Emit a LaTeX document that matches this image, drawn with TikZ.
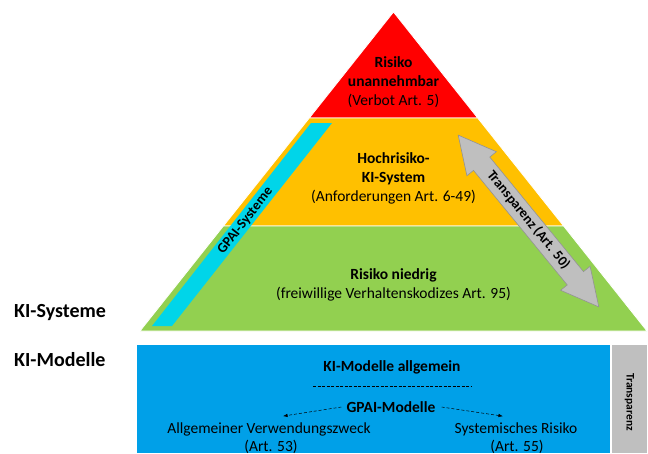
\documentclass[tikz,border=0pt]{standalone}
\usepackage{fontspec}
\setmainfont{Carlito}
\usepackage{tikz}
\usetikzlibrary{positioning,arrows.meta,calc}
\definecolor{riskred}{HTML}{FF0000}
\definecolor{riskorange}{HTML}{FFC000}
\definecolor{riskgreen}{HTML}{92D050}
\definecolor{gpaicyan}{HTML}{00D5E9}
\definecolor{modelblue}{HTML}{00A0E8}
\definecolor{transgray}{HTML}{BFBFBF}
\newcommand{\lvlfont}{\fontsize{15.5}{19}\selectfont}

\begin{document}
\begin{tikzpicture}[x=1pt,y=-1pt,
  lvltext/.style={align=center,inner sep=0pt,font=\lvlfont},
  sidelabel/.style={anchor=west,inner sep=0pt,font=\fontsize{20}{24}\selectfont\bfseries},
  gpaiarrow/.style={densely dashed,line width=0.5pt,-{Latex[length=1.6mm]}}]
\useasboundingbox (0,0) rectangle (648,453);
% pyramid: apex (393.5,12), base y=331 from x=140 to x=647
\filldraw[fill=riskred,draw=white,line width=0.8pt] (393.5,12) -- (477.7,118) -- (309.3,118) -- cycle;
\filldraw[fill=riskorange,draw=white,line width=0.8pt] (309.3,118) -- (477.7,118) -- (563.6,226) -- (223.4,226) -- cycle;
\filldraw[fill=riskgreen,draw=white,line width=0.8pt] (223.4,226) -- (563.6,226) -- (647,331) -- (140,331) -- cycle;
% GPAI band along the left flank
\fill[gpaicyan] (311,123) -- (332,123) -- (172,326) -- (152,326) -- cycle;
\node[rotate=52,inner sep=0pt,font=\fontsize{14}{16}\selectfont\bfseries] (gpaisys) at (245.5,221) {GPAI-Systeme};
% level texts
\node[lvltext] (unacc) at (393.5,82) {\textbf{Risiko}\\\textbf{unannehmbar}\\(Verbot Art. 5)};
\node[lvltext] (high) at (393.5,178) {\textbf{Hochrisiko-}\\\textbf{KI-System}\\(Anforderungen Art. 6-49)};
\node[lvltext] (low) at (393.5,285) {\textbf{Risiko niedrig}\\(freiwillige Verhaltenskodizes Art. 95)};
% transparency double arrow, tips at (458,135) and (599,307)
\begin{scope}[shift={(528.5,221)},rotate=-50.7]
\filldraw[fill=transgray,draw=gray!85,line width=0.6pt] (-111,0) -- (-74,19) -- (-74,10.5) -- (74,10.5) -- (74,19) -- (111,0)
  -- (74,-19) -- (74,-10.5) -- (-74,-10.5) -- (-74,-19) -- cycle;
\end{scope}
\node[rotate=-50.7,inner sep=0pt,font=\fontsize{14}{16}\selectfont\bfseries] (transart) at (528.5,220) {Transparenz (Art. 50)};
% side labels
\node[sidelabel] (kisys) at (14,313) {KI-Systeme};
\node[sidelabel] (kimod) at (14,360) {KI-Modelle};
% model box
\fill[modelblue] (137,345) rectangle (610,453);
\fill[transgray] (612,345) rectangle (647,453);
\node[rotate=-90,inner sep=0pt,font=\fontsize{11.5}{13}\selectfont\bfseries] (transbar) at (629.5,402) {Transparenz};
\node[lvltext,font=\lvlfont\bfseries] (allg) at (392,367) {KI-Modelle allgemein};
\draw[dash pattern=on 3pt off 1.5pt,line width=0.6pt] (313,386) -- (472,386);
\node[lvltext,font=\lvlfont\bfseries] (gpai) at (391,407) {GPAI-Modelle};
\node[lvltext] (zweck) at (269,429) {Allgemeiner Verwendungszweck};
\node[lvltext] (art53) at (271,447) {(Art. 53)};
\node[lvltext] (sysrisk) at (516,429) {Systemisches Risiko};
\node[lvltext] (art55) at (517,447) {(Art. 55)};
\draw[gpaiarrow] ([xshift=-5pt]gpai.west) -- ([xshift=14pt,yshift=6pt]zweck.north);
\draw[gpaiarrow] ([xshift=6pt]gpai.east) -- ([xshift=-13pt,yshift=6pt]sysrisk.north);
\end{tikzpicture}
\end{document}
